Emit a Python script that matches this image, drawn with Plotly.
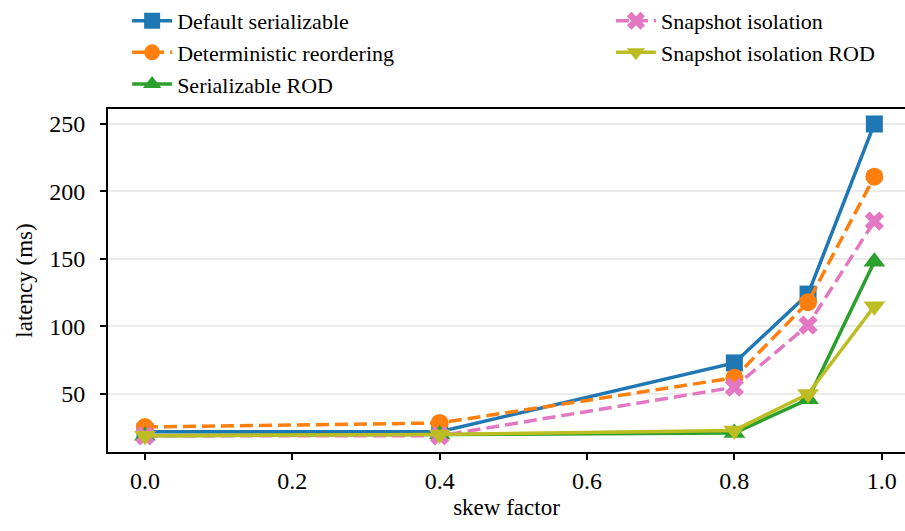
import plotly.graph_objects as go

skew = [0.0, 0.4, 0.8, 0.9, 0.99]
default_ser = [22, 22, 73, 124, 250]
det_reorder = [25.5, 28.5, 62, 118, 211]
ser_rod = [19, 20, 21, 46, 148]
snap_iso = [19, 19, 55, 101, 178]
snap_rod = [19, 20, 23, 50, 115]

x_ticks = [0.0, 0.2, 0.4, 0.6, 0.8, 1.0]
x_labels = ["0.0", "0.2", "0.4", "0.6", "0.8", "1.0"]
y_ticks = [50, 100, 150, 200, 250]

font_family = "Liberation Serif"

series = [
    ("Default serializable", default_ser, "#1f77b4", "square", "solid", 17, "legend"),
    ("Deterministic reordering", det_reorder, "#ff7f0e", "circle", "13px,6px", 18, "legend"),
    ("Serializable ROD", ser_rod, "#2ca02c", "triangle-up", "solid", 19, "legend"),
    ("Snapshot isolation", snap_iso, "#e377c2", "x", "13px,6px", 17, "legend2"),
    ("Snapshot isolation ROD", snap_rod, "#bcbd22", "triangle-down", "solid", 19, "legend2"),
]

fig = go.Figure()
for name, ys, color, sym, dash, msize, leg in series:
    fig.add_trace(go.Scatter(
        x=skew, y=ys, name=name, mode="lines+markers",
        line=dict(color=color, width=3.5, dash=dash),
        marker=dict(symbol=sym, size=msize, color=color, line=dict(width=0)),
        legend=leg,
    ))

leg_common = dict(xanchor="left", yanchor="top", xref="paper", yref="paper",
                  font=dict(size=22), tracegroupgap=0, bgcolor="rgba(0,0,0,0)",
                  itemwidth=40)

fig.update_layout(
    width=905, height=531,
    margin=dict(l=108, r=0, t=109, b=79, autoexpand=False),
    plot_bgcolor="white", paper_bgcolor="white",
    font=dict(family=font_family, size=24, color="black"),
    legend=dict(x=0.024, y=1.318, **leg_common),
    legend2=dict(x=0.631, y=1.318, **leg_common),
    xaxis=dict(
        title=dict(text="skew factor", font=dict(size=23), standoff=6),
        range=[-0.0502, 1.0316], tickvals=x_ticks, ticktext=x_labels,
        showgrid=False, zeroline=False, automargin=False,
        showline=True, linecolor="black", linewidth=2, mirror=True,
        ticks="outside", ticklen=6, tickwidth=1.5, tickcolor="black",
    ),
    yaxis=dict(
        title=dict(text="latency (ms)", font=dict(size=23), standoff=10),
        range=[7, 261.1], tickvals=y_ticks, ticklabelstandoff=10,
        showgrid=True, gridcolor="#ebebeb", gridwidth=1.5, zeroline=False,
        automargin=False,
        showline=True, linecolor="black", linewidth=2, mirror=True,
        ticks="outside", ticklen=6, tickwidth=1.5, tickcolor="black",
    ),
)

fig.write_html("out.html", config={"displayModeBar": False},
               post_script="document.body.style.margin='0';")
